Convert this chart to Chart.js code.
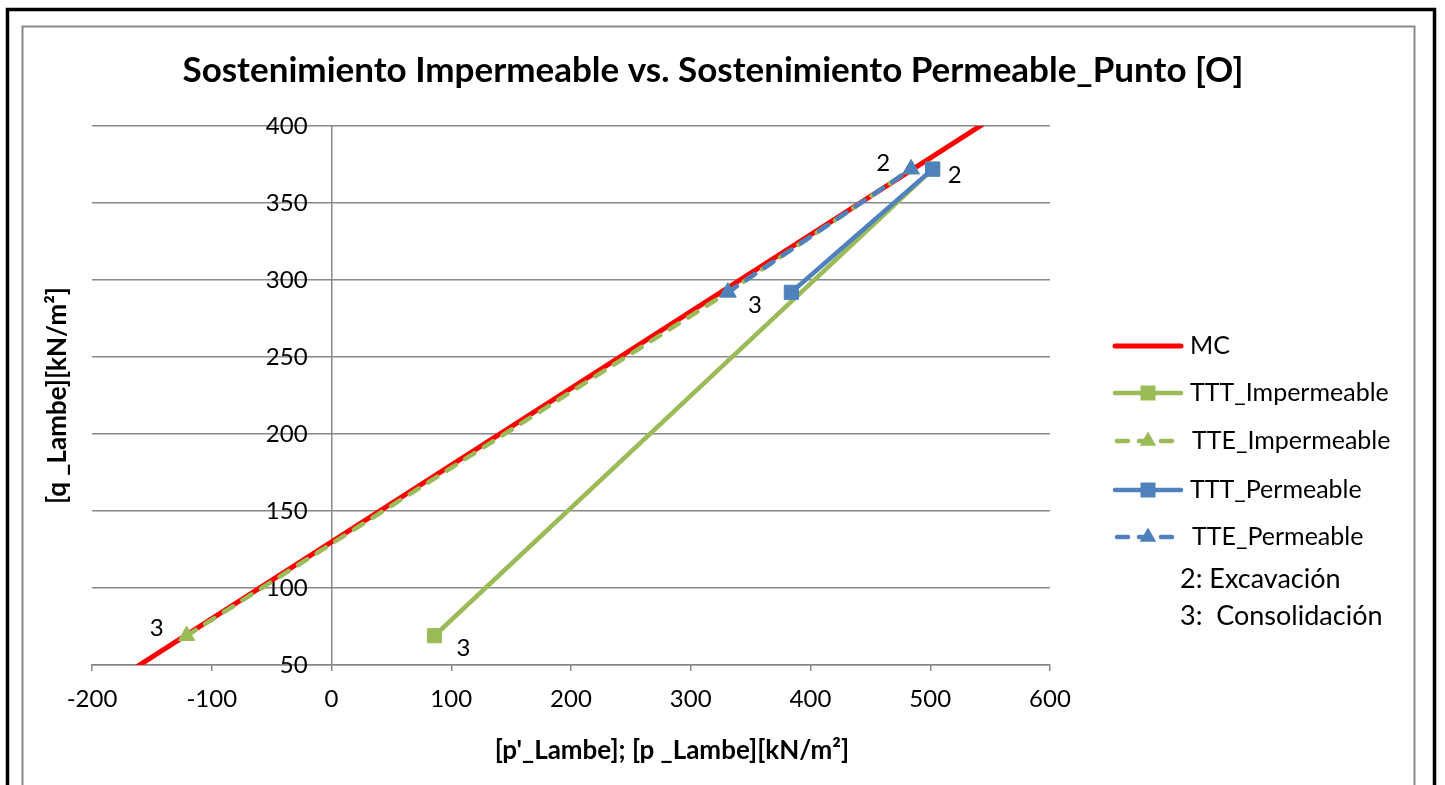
<!DOCTYPE html>
<html>
<head>
<meta charset="utf-8">
<script src="https://cdn.jsdelivr.net/npm/chart.js@4.4.0/dist/chart.umd.min.js"></script>
<style>
  html, body { margin: 0; padding: 0; background: #fff; overflow: hidden; }
  #wrap { position: relative; width: 1445px; height: 785px; }
</style>
</head>
<body>
<div id="wrap"><canvas id="c" width="1445" height="785"></canvas></div>
<script>
// Stress paths in Lambe p'-q space, kN/m²
const mcP = [-200, 600];
const mcQ = [30.2, 429.1];

const tttImpP = [86, 502];
const tttImpQ = [69, 372];
const tttImpTags = ['3', ''];

const tteImpP = [-121, 331, 484];
const tteImpQ = [69, 292, 372];
const tteImpTags = ['3', '', ''];

const tttPermP = [384, 502];
const tttPermQ = [292, 372];
const tttPermTags = ['', '2'];

const ttePermP = [331, 484];
const ttePermQ = [292, 372];
const ttePermTags = ['3', '2'];

const seriesNames = ['MC', 'TTT_Impermeable', 'TTE_Impermeable', 'TTT_Permeable', 'TTE_Permeable'];
const stageNotes = ['2: Excavación', '3:  Consolidación'];

const chartTitle = 'Sostenimiento Impermeable vs. Sostenimiento Permeable_Punto [O]';
const xTitle = "[p'_Lambe]; [p _Lambe][kN/m²]";
const yTitle = '[q _Lambe][kN/m²]';

const xMin = -200, xMax = 600, xStep = 100;
const yMin = 50, yMax = 400, yStep = 50;

// ---- styling ----
const FONT = 'Lato, "Open Sans", sans-serif';
const RED = '#FF0000';
const GREEN = '#9BBB59';
const BLUE = '#4F81BD';
const GRID = '#888888';
const DASH = [11, 11];
const TICK_SIZE = 24;
const TEXT_SIZE = 25;
// q labels sit just left of the p = 0 axis line
const Q_LABEL_ANCHOR = -20;

function pts(xs, ys) { return xs.map((x, i) => ({ x: x, y: ys[i] })); }

const datasets = [
  {
    label: seriesNames[0], data: pts(mcP, mcQ),
    borderColor: RED, borderWidth: 5, pointRadius: 0, order: 5
  },
  {
    label: seriesNames[1], data: pts(tttImpP, tttImpQ), tags: tttImpTags,
    tagOffsets: [[29, 13], [0, 0]],
    borderColor: GREEN, backgroundColor: GREEN, borderWidth: 4.5,
    pointStyle: 'rect', pointRadius: 10, pointBorderWidth: 1, order: 4
  },
  {
    label: seriesNames[2], data: pts(tteImpP, tteImpQ), tags: tteImpTags,
    tagOffsets: [[-30, -7], [0, 0], [0, 0]],
    borderColor: GREEN, backgroundColor: GREEN, borderWidth: 4.5, borderDash: DASH,
    pointStyle: 'triangle', pointRadius: 9.5, pointBorderWidth: 1, order: 3
  },
  {
    label: seriesNames[3], data: pts(tttPermP, tttPermQ), tags: tttPermTags,
    tagOffsets: [[0, 0], [22, 6]],
    borderColor: BLUE, backgroundColor: BLUE, borderWidth: 4.5,
    pointStyle: 'rect', pointRadius: 10, pointBorderWidth: 1, order: 2
  },
  {
    label: seriesNames[4], data: pts(ttePermP, ttePermQ), tags: ttePermTags,
    tagOffsets: [[27, 13], [-28, -6]],
    borderColor: BLUE, backgroundColor: BLUE, borderWidth: 4.5, borderDash: DASH,
    pointStyle: 'triangle', pointRadius: 9.5, pointBorderWidth: 1, order: 1
  }
].map(d => Object.assign({ showLine: true, tension: 0, borderCapStyle: 'round', borderJoinStyle: 'round' }, d));

function legendMarker(ctx, style, x, y, color) {
  ctx.save();
  ctx.fillStyle = color;
  ctx.setLineDash([]);
  ctx.beginPath();
  if (style === 'rect') {
    ctx.rect(x - 7.5, y - 7.5, 15, 15);
  } else if (style === 'triangle') {
    const r = 9.5;
    ctx.moveTo(x, y - r);
    ctx.lineTo(x + r * 0.866, y + r / 2);
    ctx.lineTo(x - r * 0.866, y + r / 2);
    ctx.closePath();
  }
  ctx.fill();
  ctx.restore();
}

const decorations = {
  id: 'decorations',
  beforeDraw(chart) {
    const ctx = chart.ctx;
    ctx.save();
    ctx.fillStyle = '#fff';
    ctx.fillRect(0, 0, chart.width, chart.height);
    ctx.strokeStyle = '#000';
    ctx.lineWidth = 3.5;
    ctx.strokeRect(7.5, 9.5, 1427, 900);
    ctx.strokeStyle = GRID;
    ctx.lineWidth = 2;
    ctx.strokeRect(22.5, 26.5, 1392, 900);
    ctx.restore();
  },
  afterDatasetsDraw(chart) {
    const ctx = chart.ctx;
    ctx.save();
    ctx.font = TICK_SIZE + 'px ' + FONT;
    ctx.fillStyle = '#000';
    ctx.textAlign = 'center';
    ctx.textBaseline = 'middle';
    chart.data.datasets.forEach((ds, i) => {
      if (!ds.tags) return;
      const meta = chart.getDatasetMeta(i);
      ds.tags.forEach((t, j) => {
        if (!t) return;
        const el = meta.data[j];
        const off = ds.tagOffsets[j];
        ctx.fillText(t, el.x + off[0], el.y + off[1]);
      });
    });
    ctx.restore();
  },
  afterDraw(chart) {
    const ctx = chart.ctx;
    const area = chart.chartArea;
    ctx.save();
    ctx.fillStyle = '#000';

    // chart title
    ctx.font = 'bold 35px ' + FONT;
    ctx.textAlign = 'center';
    ctx.textBaseline = 'alphabetic';
    ctx.fillText(chartTitle, 713, 82);

    // axis titles
    ctx.font = 'bold 26px ' + FONT;
    ctx.textBaseline = 'middle';
    ctx.fillText(xTitle, 672, 751);
    ctx.save();
    ctx.translate(58, (area.top + area.bottom) / 2);
    ctx.rotate(-Math.PI / 2);
    ctx.fillText(yTitle, 0, 0);
    ctx.restore();

    // legend
    const x0 = 1113, x1 = 1183, mid = 1148;
    const rows = [346, 393, 441, 490, 537];
    ctx.font = TEXT_SIZE + 'px ' + FONT;
    ctx.textAlign = 'left';
    chart.data.datasets.forEach((ds, i) => {
      const y = rows[i];
      ctx.save();
      ctx.strokeStyle = ds.borderColor;
      ctx.lineWidth = ds.borderWidth;
      ctx.lineCap = 'round';
      if (ds.borderDash) {
        ctx.setLineDash(ds.borderDash);
        ctx.lineDashOffset = -2;
      }
      ctx.beginPath();
      ctx.moveTo(x0 + 2, y);
      ctx.lineTo(x1 - 2, y);
      ctx.stroke();
      ctx.restore();
      if (ds.pointRadius) legendMarker(ctx, ds.pointStyle, mid, y, ds.backgroundColor);
      ctx.fillText(ds.label, ds.borderDash ? 1192 : 1190, y);
    });
    ctx.font = '27px ' + FONT;
    stageNotes.forEach((t, k) => ctx.fillText(t, 1180, 579 + k * 37));
    ctx.restore();
  }
};

new Chart(document.getElementById('c'), {
  type: 'scatter',
  data: { datasets: datasets },
  options: {
    responsive: false,
    animation: false,
    events: [],
    layout: { padding: { left: 92, top: 126, right: 395, bottom: 0 } },
    plugins: { legend: { display: false }, title: { display: false }, tooltip: { enabled: false } },
    scales: {
      x: {
        type: 'linear', position: 'bottom', min: xMin, max: xMax,
        ticks: { stepSize: xStep, color: '#000', font: { family: FONT, size: TICK_SIZE }, padding: 14 },
        grid: {
          drawOnChartArea: true, drawTicks: true, tickLength: 6, lineWidth: 1.5, tickColor: GRID,
          // only the p = 0 line is drawn across the plot, acting as the q axis
          color: c => (c.tick && c.tick.value === 0) ? GRID : 'rgba(0,0,0,0)'
        },
        border: { display: true, color: GRID, width: 1.5 },
        afterFit(s) { s.height = 120; }
      },
      y: {
        type: 'linear', position: 'left', min: yMin, max: yMax,
        ticks: { display: false, stepSize: yStep },
        grid: { color: GRID, lineWidth: 1.5, drawTicks: false },
        border: { display: false },
        afterFit(s) { s.width = 0; }
      },
      yLabels: {
        axis: 'y', type: 'linear', position: { x: Q_LABEL_ANCHOR }, min: yMin, max: yMax,
        ticks: { stepSize: yStep, color: '#000', font: { family: FONT, size: TICK_SIZE }, padding: 0 },
        grid: { display: false, drawTicks: false },
        border: { display: false }
      }
    }
  },
  plugins: [decorations]
});
</script>
</body>
</html>
